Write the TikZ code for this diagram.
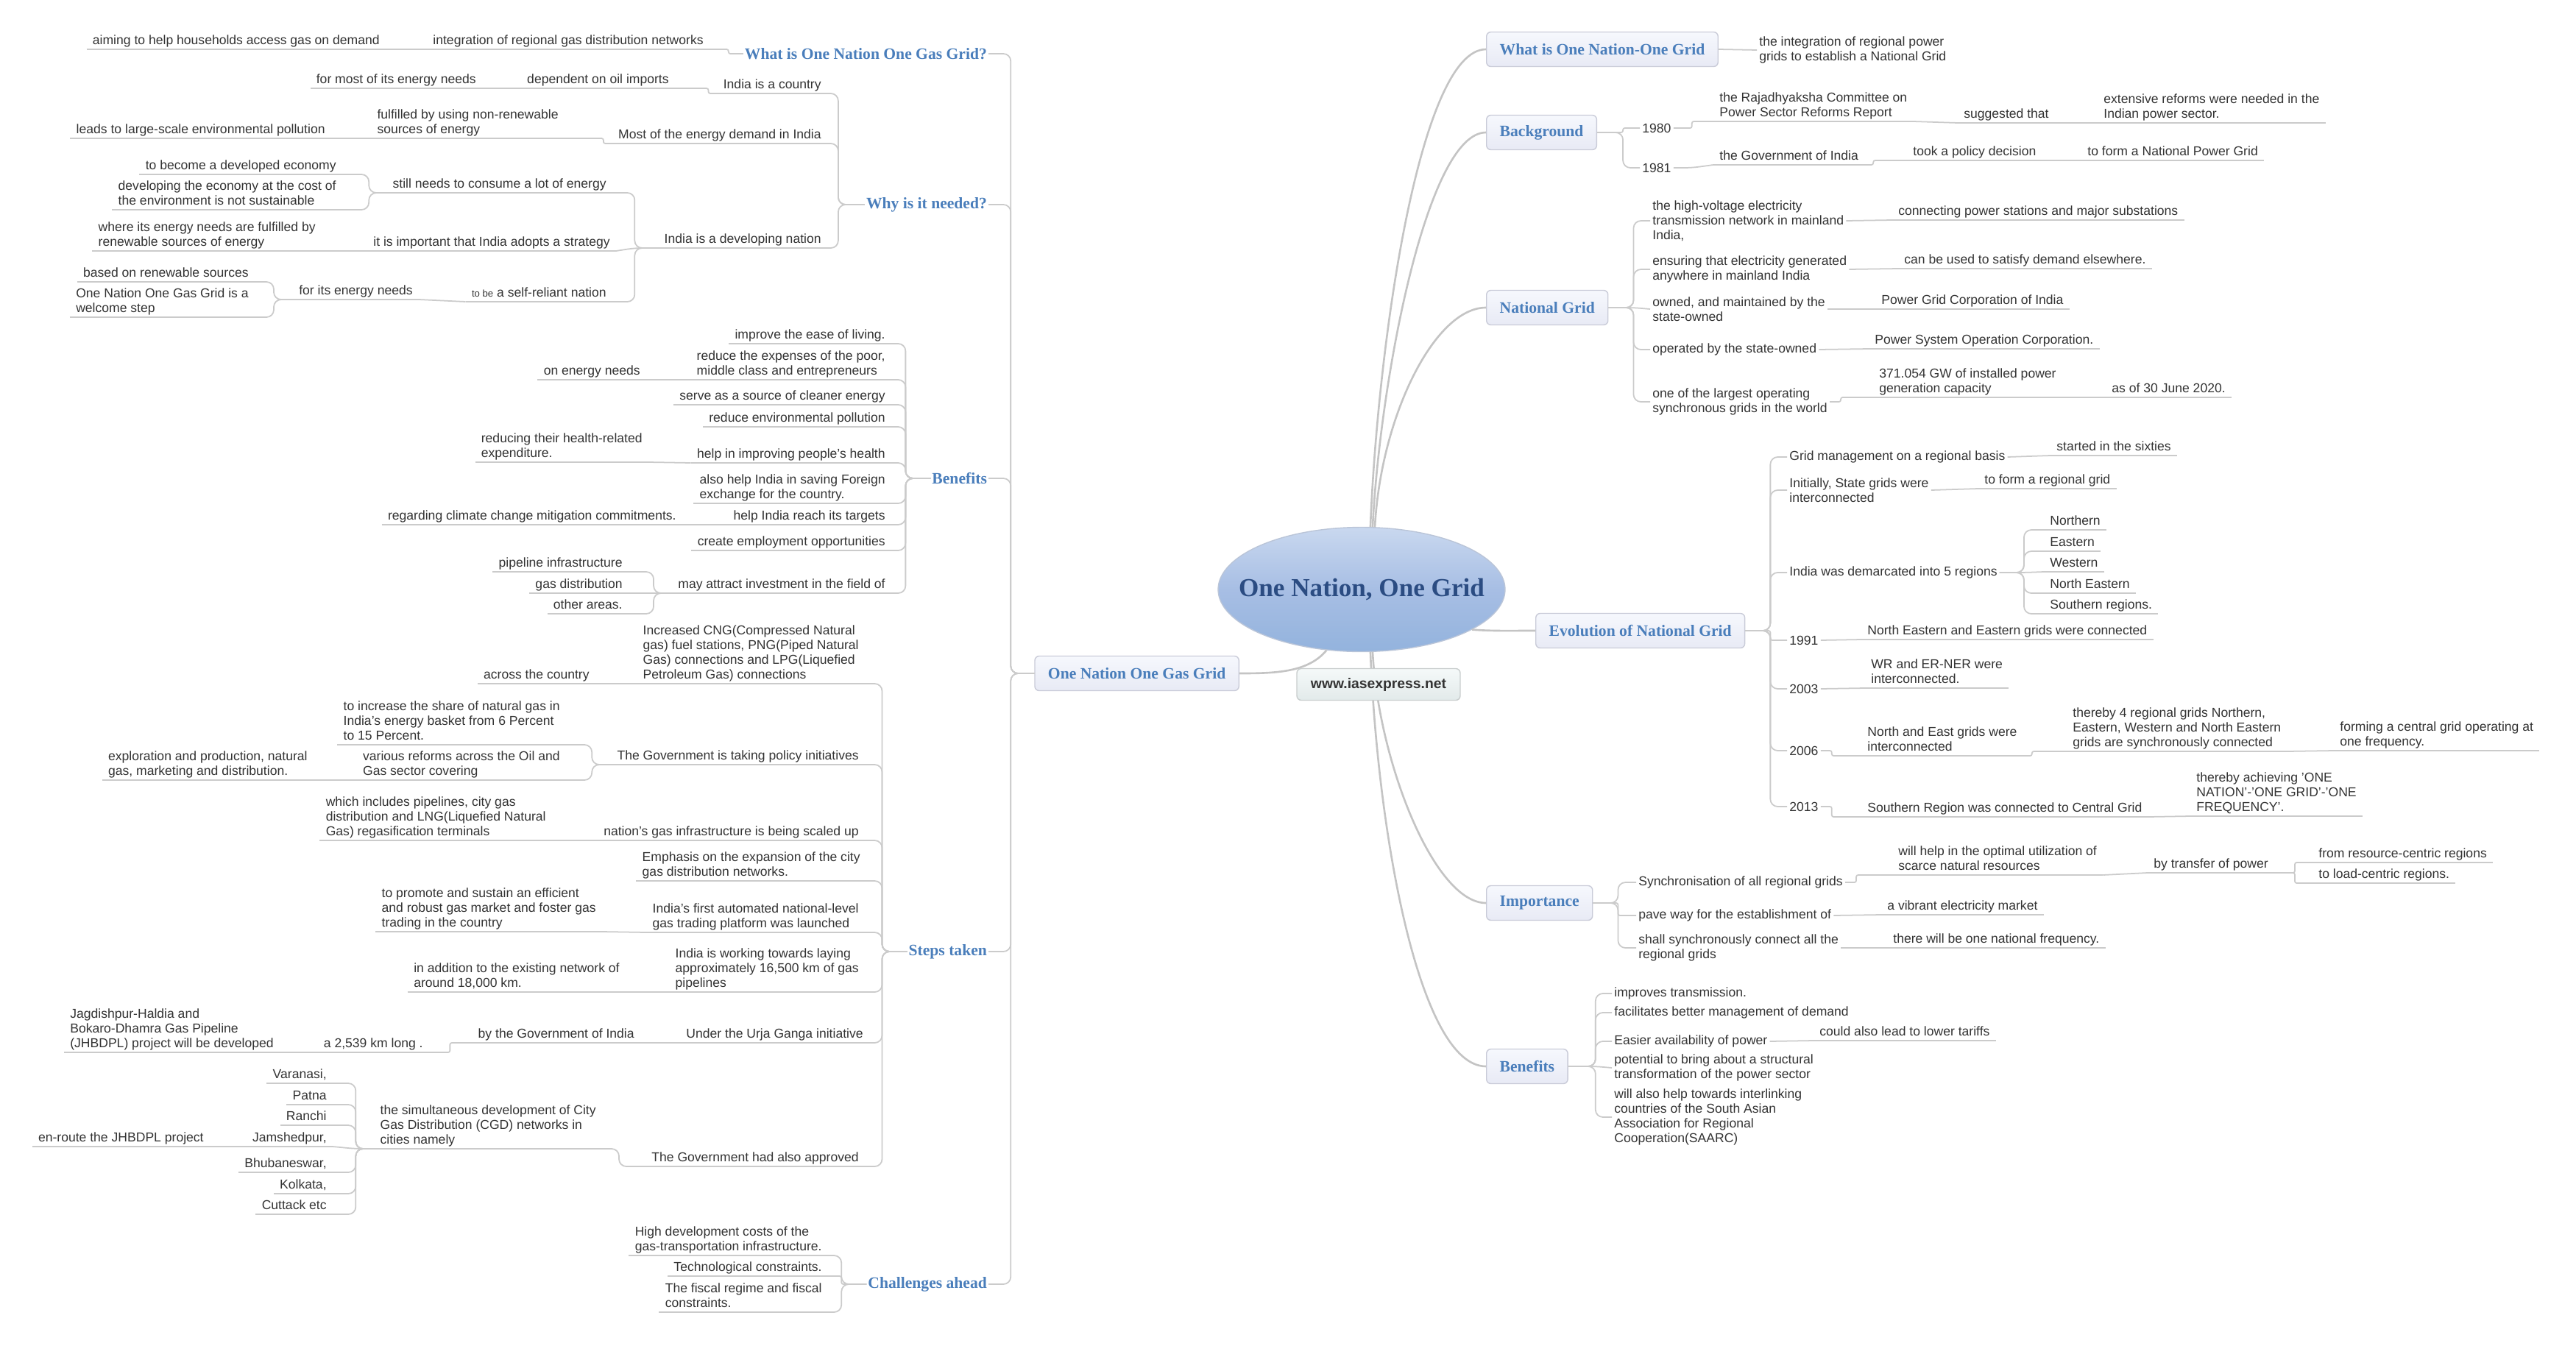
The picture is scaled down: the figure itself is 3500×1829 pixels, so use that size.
\documentclass[tikz,border=0pt]{standalone}
\usepackage{fontspec}
\setmainfont{Liberation Sans}
\newfontfamily\seriffont{Liberation Serif}
\usetikzlibrary{shapes.geometric}

\definecolor{txtgray}{HTML}{333333}
\definecolor{linegray}{HTML}{CBCBCB}
\definecolor{maingray}{HTML}{C4C4C4}
\definecolor{bluetxt}{HTML}{4A7EBB}
\definecolor{titleblue}{HTML}{2B4C82}
\definecolor{boxtop}{HTML}{F6F8FD}
\definecolor{boxbot}{HTML}{E8EAF5}
\definecolor{boxline}{HTML}{C9CBD8}
\definecolor{webtop}{HTML}{F5F9F9}
\definecolor{webbot}{HTML}{E2EAEA}
\definecolor{webline}{HTML}{C8CDCD}
\definecolor{elltop}{HTML}{C9D8EF}
\definecolor{ellmid}{HTML}{A7BEE4}
\definecolor{ellbot}{HTML}{93B3DD}
\definecolor{ellline}{HTML}{BAC5D8}

\tikzset{
  leaf/.style={font=\fontsize{10}{11.4}\selectfont, text=txtgray, align=left, inner xsep=0.16cm, inner ysep=0pt,
    execute at end node=\strut,
    append after command={(\tikzlastnode.south west) edge[uline] (\tikzlastnode.south east)}},
  branchtxt/.style={font=\fontsize{10}{11.4}\selectfont, text=txtgray, align=left, inner xsep=0.06cm, inner ysep=1pt},
  uline/.style={draw=linegray, line width=1pt},
  sublabel/.style={font=\seriffont\bfseries\fontsize{12.3}{14}\selectfont, text=bluetxt, inner sep=1pt},
  topic/.style={draw=boxline, line width=0.8pt, rounded corners=0.12cm, top color=boxtop, bottom color=boxbot,
    font=\seriffont\bfseries\fontsize{12.3}{14}\selectfont, text=bluetxt, minimum height=0.94cm, inner xsep=0.36cm},
  webbox/.style={draw=webline, line width=0.8pt, rounded corners=0.12cm, top color=webtop, bottom color=webbot,
    font=\bfseries\fontsize{11}{13}\selectfont, text=txtgray, minimum width=4.44cm, minimum height=0.86cm},
  conn/.style={draw=linegray, line width=1pt, rounded corners=0.2cm},
  connS/.style={draw=linegray, line width=1pt, rounded corners=0.05cm},
  mainline/.style={draw=maingray, line width=1.5pt},
}

\begin{document}
\begin{tikzpicture}[x=0.02cm,y=-0.02cm]
\useasboundingbox (0,0) rectangle (3500,1829);

% centre
\path (1850,801) node[ellipse, draw=ellline, line width=0.8pt, top color=elltop, bottom color=ellbot, middle color=ellmid,
  inner sep=0pt, minimum width=7.8cm, minimum height=3.38cm, font=\seriffont\bfseries\fontsize{20}{24}\selectfont, text=titleblue] (core) {\makebox[0pt]{One Nation, One Grid}};

% main topics
\path (1684,915) node[topic,anchor=east] (gas) {One Nation One Gas Grid};
\path (2019,67) node[topic,anchor=west] (whatgrid) {What is One Nation-One Grid};
\path (2019,180) node[topic,anchor=west] (backg) {Background};
\path (2019,418) node[topic,anchor=west] (natgrid) {National Grid};
\path (2086,857) node[topic,anchor=west] (evol) {Evolution of National Grid};
\path (2019,1227) node[topic,anchor=west] (import) {Importance};
\path (2019,1449) node[topic,anchor=west] (rben) {Benefits};

% left side labels
\path (1343,73) node[sublabel,anchor=east] (whatgas) {What is One Nation One Gas Grid?};
\path (1343,278) node[sublabel,anchor=east] (why) {Why is it needed?};
\path (1343,650) node[sublabel,anchor=east] (lben) {Benefits};
\path (1343,1293) node[sublabel,anchor=east] (steps) {Steps taken};
\path (1343,1745) node[sublabel,anchor=east] (chal) {Challenges ahead};

% what is gas grid
\path (964,67) node[leaf,anchor=south east] (wg1) {integration of regional gas distribution networks};
\path (524,67) node[leaf,anchor=south east] (wg1a) {aiming to help households access gas on demand};

% why is it needed
\path (1124,127) node[leaf,anchor=south east] (y1) {India is a country};
\path (917,120) node[leaf,anchor=south east] (y1a) {dependent on oil imports};
\path (655,120) node[leaf,anchor=south east] (y1a1) {for most of its energy needs};
\path (1124,195) node[leaf,anchor=south east] (y2) {Most of the energy demand in India};
\path (767,188) node[leaf,anchor=south east] (y2a) {fulfilled by using non-renewable\\sources of energy};
\path (450,188) node[leaf,anchor=south east] (y2a1) {leads to large-scale environmental pollution};
\path (1124,337) node[leaf,anchor=south east] (y3) {India is a developing nation};
\path (832,262) node[leaf,anchor=south east] (y3a) {still needs to consume a lot of energy};
\path (465,237) node[leaf,anchor=south east] (y3a1) {to become a developed economy};
\path (465,285) node[leaf,anchor=south east] (y3a2) {developing the economy at the cost of\\the environment is not sustainable};
\path (837,341) node[leaf,anchor=south east] (y3b) {it is important that India adopts a strategy};
\path (437,341) node[leaf,anchor=south east] (y3b1) {where its energy needs are fulfilled by\\renewable sources of energy};
\path (832,410) node[leaf,anchor=south east] (y3c) {{\fontsize{7.5}{8}\selectfont to be} a self-reliant nation};
\path (569,407) node[leaf,anchor=south east] (y3c1) {for its energy needs};
\path (346,383) node[leaf,anchor=south east] (y3c1a) {based on renewable sources};
\path (346,431) node[leaf,anchor=south east] (y3c1b) {One Nation One Gas Grid is a\\welcome step};

% benefits (gas)
\path (1211,467) node[leaf,anchor=south east] (lb1) {improve the ease of living.};
\path (1211,516) node[leaf,anchor=south east] (lb2) {reduce the expenses of the poor,\\middle class and entrepreneurs};
\path (878,516) node[leaf,anchor=south east] (lb2a) {on energy needs};
\path (1211,550) node[leaf,anchor=south east] (lb3) {serve as a source of cleaner energy};
\path (1211,580) node[leaf,anchor=south east] (lb4) {reduce environmental pollution};
\path (1211,629) node[leaf,anchor=south east] (lb5) {help in improving people's health};
\path (881,628) node[leaf,anchor=south east] (lb5a) {reducing their health-related\\expenditure.};
\path (1211,684) node[leaf,anchor=south east] (lb6) {also help India in saving Foreign\\exchange for the country.};
\path (1211,713) node[leaf,anchor=south east] (lb7) {help India reach its targets};
\path (927,713) node[leaf,anchor=south east] (lb7a) {regarding climate change mitigation commitments.};
\path (1211,748) node[leaf,anchor=south east] (lb8) {create employment opportunities};
\path (1211,806) node[leaf,anchor=south east] (lb9) {may attract investment in the field of};
\path (854,777) node[leaf,anchor=south east] (lb9a) {pipeline infrastructure};
\path (854,806) node[leaf,anchor=south east] (lb9b) {gas distribution};
\path (854,834) node[leaf,anchor=south east] (lb9c) {other areas.};

% steps taken
\path (1175,929) node[leaf,anchor=south east] (s1) {Increased CNG(Compressed Natural\\gas) fuel stations, PNG(Piped Natural\\Gas) connections and LPG(Liquefied\\Petroleum Gas) connections};
\path (809,929) node[leaf,anchor=south east] (s1a) {across the country};
\path (1175,1039) node[leaf,anchor=south east] (s2) {The Government is taking policy initiatives};
\path (769,1012) node[leaf,anchor=south east] (s2a) {to increase the share of natural gas in\\India's energy basket from 6 Percent\\to 15 Percent.};
\path (769,1060) node[leaf,anchor=south east] (s2b) {various reforms across the Oil and\\Gas sector covering};
\path (426,1060) node[leaf,anchor=south east] (s2b1) {exploration and production, natural\\gas, marketing and distribution.};
\path (1175,1142) node[leaf,anchor=south east] (s3) {nation's gas infrastructure is being scaled up};
\path (750,1142) node[leaf,anchor=south east] (s3a) {which includes pipelines, city gas\\distribution and LNG(Liquefied Natural\\Gas) regasification terminals};
\path (1177,1197) node[leaf,anchor=south east] (s4) {Emphasis on the expansion of the city\\gas distribution networks.};
\path (1175,1267) node[leaf,anchor=south east] (s5) {India's first automated national-level\\gas trading platform was launched};
\path (818,1266) node[leaf,anchor=south east] (s5a) {to promote and sustain an efficient\\and robust gas market and foster gas\\trading in the country};
\path (1175,1348) node[leaf,anchor=south east] (s6) {India is working towards laying\\approximately 16,500 km of gas\\pipelines};
\path (850,1348) node[leaf,anchor=south east] (s6a) {in addition to the existing network of\\around 18,000 km.};
\path (1181,1417) node[leaf,anchor=south east] (s7) {Under the Urja Ganga initiative};
\path (870,1417) node[leaf,anchor=south east] (s7a) {by the Government of India};
\path (583,1430) node[leaf,anchor=south east] (s7a1) {a 2,539 km long .};
\path (380,1430) node[leaf,anchor=south east] (s7a1a) {Jagdishpur-Haldia and\\Bokaro-Dhamra Gas Pipeline\\(JHBDPL) project will be developed};
\path (1175,1585) node[leaf,anchor=south east] (s8) {The Government had also approved};
\path (818,1561) node[leaf,anchor=south east] (s8a) {the simultaneous development of City\\Gas Distribution (CGD) networks in\\cities namely};
\path (452,1472) node[leaf,anchor=south east] (city1) {Varanasi,};
\path (452,1501) node[leaf,anchor=south east] (city2) {Patna};
\path (452,1529) node[leaf,anchor=south east] (city3) {Ranchi};
\path (452,1558) node[leaf,anchor=south east] (city4) {Jamshedpur,};
\path (285,1558) node[leaf,anchor=south east] (city4a) {en-route the JHBDPL project};
\path (452,1593) node[leaf,anchor=south east] (city5) {Bhubaneswar,};
\path (452,1622) node[leaf,anchor=south east] (city6) {Kolkata,};
\path (452,1650) node[leaf,anchor=south east] (city7) {Cuttack etc};

% challenges
\path (1125,1706) node[leaf,anchor=south east] (ch1) {High development costs of the\\gas-transportation infrastructure.};
\path (1125,1734) node[leaf,anchor=south east] (ch2) {Technological constraints.};
\path (1125,1783) node[leaf,anchor=south east] (ch3) {The fiscal regime and fiscal\\constraints.};

% what is one nation-one grid
\path (2387,68) node[branchtxt,anchor=west] (wr1) {the integration of regional power\\grids to establish a National Grid};

% background
\path (2228,174) node[branchtxt,anchor=west] (y1980) {1980};
\path (2228,228) node[branchtxt,anchor=west] (y1981) {1981};
\path (2328,165) node[leaf,anchor=south west] (bg1a) {the Rajadhyaksha Committee on\\Power Sector Reforms Report};
\path (2660,167) node[leaf,anchor=south west] (bg1a1) {suggested that};
\path (2850,167) node[leaf,anchor=south west] (bg1a1a) {extensive reforms were needed in the\\Indian power sector.};
\path (2328,224) node[leaf,anchor=south west] (bg2a) {the Government of India};
\path (2591,218) node[leaf,anchor=south west] (bg2a1) {took a policy decision};
\path (2828,218) node[leaf,anchor=south west] (bg2a1a) {to form a National Power Grid};

% national grid
\path (2242,300) node[branchtxt,anchor=west] (ng1) {the high-voltage electricity\\transmission network in mainland\\India,};
\path (2242,366) node[branchtxt,anchor=west] (ng2) {ensuring that electricity generated\\anywhere in mainland India};
\path (2242,420) node[branchtxt,anchor=west] (ng3) {owned, and maintained by the\\state-owned};
\path (2242,475) node[branchtxt,anchor=west] (ng4) {operated by the state-owned};
\path (2242,546) node[branchtxt,anchor=west] (ng5) {one of the largest operating\\synchronous grids in the world};
\path (2571,299) node[leaf,anchor=south west] (ng1a) {connecting power stations and major substations};
\path (2579,365) node[leaf,anchor=south west] (ng2a) {can be used to satisfy demand elsewhere.};
\path (2548,420) node[leaf,anchor=south west] (ng3a) {Power Grid Corporation of India};
\path (2539,474) node[leaf,anchor=south west] (ng4a) {Power System Operation Corporation.};
\path (2545,540) node[leaf,anchor=south west] (ng5a) {371.054 GW of installed power\\generation capacity};
\path (2861,540) node[leaf,anchor=south west] (ng5a1) {as of 30 June 2020.};

% evolution
\path (2428,621) node[branchtxt,anchor=west] (ev1) {Grid management on a regional basis};
\path (2428,666) node[branchtxt,anchor=west] (ev2) {Initially, State grids were\\interconnected};
\path (2428,778) node[branchtxt,anchor=west] (ev3) {India was demarcated into 5 regions};
\path (2428,870) node[branchtxt,anchor=west] (ev4) {1991};
\path (2428,936) node[branchtxt,anchor=west] (ev5) {2003};
\path (2428,1020) node[branchtxt,anchor=west] (ev6) {2006};
\path (2428,1096) node[branchtxt,anchor=west] (ev7) {2013};
\path (2786,619) node[leaf,anchor=south west] (ev1a) {started in the sixties};
\path (2688,664) node[leaf,anchor=south west] (ev2a) {to form a regional grid};
\path (2777,720) node[leaf,anchor=south west] (ev3a) {Northern};
\path (2777,749) node[leaf,anchor=south west] (ev3b) {Eastern};
\path (2777,777) node[leaf,anchor=south west] (ev3c) {Western};
\path (2777,806) node[leaf,anchor=south west] (ev3d) {North Eastern};
\path (2777,834) node[leaf,anchor=south west] (ev3e) {Southern regions.};
\path (2529,869) node[leaf,anchor=south west] (ev4a) {North Eastern and Eastern grids were connected};
\path (2534,935) node[leaf,anchor=south west] (ev5a) {WR and ER-NER were\\interconnected.};
\path (2529,1027) node[leaf,anchor=south west] (ev6a) {North and East grids were\\interconnected};
\path (2808,1021) node[leaf,anchor=south west] (ev6a1) {thereby 4 regional grids Northern,\\Eastern, Western and North Eastern\\grids are synchronously connected};
\path (3171,1020) node[leaf,anchor=south west] (ev6a1a) {forming a central grid operating at\\one frequency.};
\path (2529,1110) node[leaf,anchor=south west] (ev7a) {Southern Region was connected to Central Grid};
\path (2976,1109) node[leaf,anchor=south west] (ev7a1) {thereby achieving 'ONE\\NATION'-'ONE GRID'-'ONE\\FREQUENCY'.};

% importance
\path (2223,1199) node[branchtxt,anchor=west] (im1) {Synchronisation of all regional grids};
\path (2223,1244) node[branchtxt,anchor=west] (im2) {pave way for the establishment of};
\path (2223,1288) node[branchtxt,anchor=west] (im3) {shall synchronously connect all the\\regional grids};
\path (2571,1189) node[leaf,anchor=south west] (im1a) {will help in the optimal utilization of\\scarce natural resources};
\path (2918,1186) node[leaf,anchor=south west] (im1a1) {by transfer of power};
\path (3142,1172) node[leaf,anchor=south west] (im1a1a) {from resource-centric regions};
\path (3142,1200) node[leaf,anchor=south west] (im1a1b) {to load-centric regions.};
\path (2556,1243) node[leaf,anchor=south west] (im2a) {a vibrant electricity market};
\path (2564,1288) node[leaf,anchor=south west] (im3a) {there will be one national frequency.};

% benefits (grid)
\path (2190,1350) node[branchtxt,anchor=west] (rb1) {improves transmission.};
\path (2190,1376) node[branchtxt,anchor=west] (rb2) {facilitates better management of demand};
\path (2190,1415) node[branchtxt,anchor=west] (rb3) {Easier availability of power};
\path (2190,1451) node[branchtxt,anchor=west] (rb4) {potential to bring about a structural\\transformation of the power sector};
\path (2190,1518) node[branchtxt,anchor=west] (rb5) {will also help towards interlinking\\countries of the South Asian\\Association for Regional\\Cooperation(SAARC)};
\path (2464,1414) node[leaf,anchor=south west] (rb3a) {could also lead to lower tariffs};

% connectors from the centre
\draw[mainline] (core.82) .. controls +(10,-250) and +(-90,0) .. (whatgrid.west);
\draw[mainline] (core.80) .. controls +(10,-200) and +(-80,0) .. (backg.west);
\draw[mainline] (core.78) .. controls +(8,-150) and +(-70,0) .. (natgrid.west);
\draw[mainline] (core.-20) .. controls +(30,2) and +(-40,0) .. (evol.west);
\draw[mainline] (core.-80) .. controls +(8,150) and +(-70,0) .. (import.west);
\draw[mainline] (core.-82) .. controls +(10,250) and +(-90,0) .. (rben.west);
\draw[mainline] (core.-120) .. controls +(-25,30) and +(50,0) .. (gas.east);

% left connectors
\draw[conn] (gas.west) -- ++(-32,0) |- (whatgas.east);
\draw[conn] (gas.west) -- ++(-32,0) |- (why.east);
\draw[conn] (gas.west) -- ++(-32,0) |- (lben.east);
\draw[conn] (gas.west) -- ++(-32,0) |- (steps.east);
\draw[conn] (gas.west) -- ++(-32,0) |- (chal.east);

\draw[connS] (whatgas.west) -- ++(-20,0) |- (wg1.south east);
\draw[conn] (wg1.south west) -- (wg1a.south east);

\draw[conn] (why.west) -- ++(-36,0) |- (y1.south east);
\draw[conn] (why.west) -- ++(-36,0) |- (y2.south east);
\draw[conn] (why.west) -- ++(-36,0) |- (y3.south east);
\draw[connS] (y1.south west) -- ++(-12,0) |- (y1a.south east);
\draw[conn] (y1a.south west) -- (y1a1.south east);
\draw[connS] (y2.south west) -- ++(-12,0) |- (y2a.south east);
\draw[conn] (y2a.south west) -- (y2a1.south east);
\draw[conn] (y3.south west) -- ++(-32,0) |- (y3a.south east);
\draw[conn] (y3.south west) -- ++(-32,0) -- (y3b.south east);
\draw[conn] (y3.south west) -- ++(-32,0) |- (y3c.south east);
\draw[conn] (y3a.south west) -- ++(-24,0) |- (y3a1.south east);
\draw[conn] (y3a.south west) -- ++(-24,0) |- (y3a2.south east);
\draw[conn] (y3b.south west) -- (y3b1.south east);
\draw[conn] (y3c.south west) -- (y3c1.south east);
\draw[conn] (y3c1.south west) -- ++(-26,0) |- (y3c1a.south east);
\draw[conn] (y3c1.south west) -- ++(-26,0) |- (y3c1b.south east);

\draw[conn] (lben.west) -- ++(-34,0) |- (lb1.south east);
\draw[conn] (lben.west) -- ++(-34,0) |- (lb2.south east);
\draw[conn] (lben.west) -- ++(-34,0) |- (lb3.south east);
\draw[conn] (lben.west) -- ++(-34,0) |- (lb4.south east);
\draw[conn] (lben.west) -- ++(-34,0) |- (lb5.south east);
\draw[conn] (lben.west) -- ++(-34,0) |- (lb6.south east);
\draw[conn] (lben.west) -- ++(-34,0) |- (lb7.south east);
\draw[conn] (lben.west) -- ++(-34,0) |- (lb8.south east);
\draw[conn] (lben.west) -- ++(-34,0) |- (lb9.south east);
\draw[conn] (lb2.south west) -- (lb2a.south east);
\draw[conn] (lb5.south west) -- (lb5a.south east);
\draw[conn] (lb7.south west) -- (lb7a.south east);
\draw[conn] (lb9.south west) -- ++(-25,0) |- (lb9a.south east);
\draw[conn] (lb9.south west) -- (lb9b.south east);
\draw[conn] (lb9.south west) -- ++(-25,0) |- (lb9c.south east);

\draw[conn] (steps.west) -- ++(-34,0) |- (s1.south east);
\draw[conn] (steps.west) -- ++(-34,0) |- (s2.south east);
\draw[conn] (steps.west) -- ++(-34,0) |- (s3.south east);
\draw[conn] (steps.west) -- ++(-34,0) |- (s4.south east);
\draw[conn] (steps.west) -- ++(-34,0) |- (s5.south east);
\draw[conn] (steps.west) -- ++(-34,0) |- (s6.south east);
\draw[conn] (steps.west) -- ++(-34,0) |- (s7.south east);
\draw[conn] (steps.west) -- ++(-34,0) |- (s8.south east);
\draw[conn] (s1.south west) -- (s1a.south east);
\draw[conn] (s2.south west) -- ++(-26,0) |- (s2a.south east);
\draw[conn] (s2.south west) -- ++(-26,0) |- (s2b.south east);
\draw[conn] (s2b.south west) -- (s2b1.south east);
\draw[conn] (s3.south west) -- (s3a.south east);
\draw[conn] (s5.south west) -- (s5a.south east);
\draw[conn] (s6.south west) -- (s6a.south east);
\draw[conn] (s7.south west) -- (s7a.south east);
\draw[connS] (s7a.south west) -- ++(-30,0) |- (s7a1.south east);
\draw[conn] (s7a1.south west) -- (s7a1a.south east);
\draw[conn] (s8.south west) -- ++(-36,0) |- (s8a.south east);
\draw[conn] (s8a.south west) -- ++(-25,0) |- (city1.south east);
\draw[conn] (s8a.south west) -- ++(-25,0) |- (city2.south east);
\draw[conn] (s8a.south west) -- ++(-25,0) |- (city3.south east);
\draw[conn] (s8a.south west) -- ++(-25,0) -- (city4.south east);
\draw[conn] (s8a.south west) -- ++(-25,0) |- (city5.south east);
\draw[conn] (s8a.south west) -- ++(-25,0) |- (city6.south east);
\draw[conn] (s8a.south west) -- ++(-25,0) |- (city7.south east);
\draw[conn] (city4.south west) -- (city4a.south east);

\draw[conn] (chal.west) -- ++(-34,0) |- (ch1.south east);
\draw[connS] (chal.west) -- ++(-34,0) |- (ch2.south east);
\draw[conn] (chal.west) -- ++(-34,0) |- (ch3.south east);

% right connectors
\draw[conn] (whatgrid.east) -- (wr1.west);

\draw[connS] (backg.east) -- ++(35,0) |- (y1980.west);
\draw[conn] (backg.east) -- ++(35,0) |- (y1981.west);
\draw[connS] (y1980.east) -- ++(25,0) |- (bg1a.south west);
\draw[conn] (bg1a.south east) -- (bg1a1.south west);
\draw[conn] (bg1a1.south east) -- (bg1a1a.south west);
\draw[conn] (y1981.east) -- ++(25,0) -- (bg2a.south west);
\draw[connS] (bg2a.south east) -- ++(12,0) |- (bg2a1.south west);
\draw[conn] (bg2a1.south east) -- (bg2a1a.south west);

\draw[conn] (natgrid.east) -- ++(34,0) |- (ng1.west);
\draw[conn] (natgrid.east) -- ++(34,0) |- (ng2.west);
\draw[conn] (natgrid.east) -- ++(34,0) -- (ng3.west);
\draw[conn] (natgrid.east) -- ++(34,0) |- (ng4.west);
\draw[conn] (natgrid.east) -- ++(34,0) |- (ng5.west);
\draw[conn] (ng1.east) -- (ng1a.south west);
\draw[conn] (ng2.east) -- (ng2a.south west);
\draw[conn] (ng3.east) -- (ng3a.south west);
\draw[conn] (ng4.east) -- (ng4a.south west);
\draw[connS] (ng5.east) -- ++(15,0) |- (ng5a.south west);
\draw[conn] (ng5a.south east) -- (ng5a1.south west);

\draw[conn] (evol.east) -- ++(34,0) |- (ev1.west);
\draw[conn] (evol.east) -- ++(34,0) |- (ev2.west);
\draw[conn] (evol.east) -- ++(34,0) |- (ev3.west);
\draw[connS] (evol.east) -- ++(34,0) |- (ev4.west);
\draw[conn] (evol.east) -- ++(34,0) |- (ev5.west);
\draw[conn] (evol.east) -- ++(34,0) |- (ev6.west);
\draw[conn] (evol.east) -- ++(34,0) |- (ev7.west);
\draw[conn] (ev1.east) -- (ev1a.south west);
\draw[conn] (ev2.east) -- (ev2a.south west);
\draw[conn] (ev3.east) -- ++(33,0) |- (ev3a.south west);
\draw[conn] (ev3.east) -- ++(33,0) |- (ev3b.south west);
\draw[conn] (ev3.east) -- ++(33,0) -- (ev3c.south west);
\draw[conn] (ev3.east) -- ++(33,0) |- (ev3d.south west);
\draw[conn] (ev3.east) -- ++(33,0) |- (ev3e.south west);
\draw[conn] (ev4.east) -- (ev4a.south west);
\draw[conn] (ev5.east) -- (ev5a.south west);
\draw[connS] (ev6.east) -- ++(15,0) |- (ev6a.south west);
\draw[connS] (ev6a.south east) -- ++(12,0) |- (ev6a1.south west);
\draw[conn] (ev6a1.south east) -- (ev6a1a.south west);
\draw[connS] (ev7.east) -- ++(15,0) |- (ev7a.south west);
\draw[conn] (ev7a.south east) -- (ev7a1.south west);

\draw[conn] (import.east) -- ++(34,0) |- (im1.west);
\draw[connS] (import.east) -- ++(34,0) |- (im2.west);
\draw[conn] (import.east) -- ++(34,0) |- (im3.west);
\draw[connS] (im1.east) -- ++(15,0) |- (im1a.south west);
\draw[conn] (im1a.south east) -- (im1a1.south west);
\draw[connS] (im1a1.south east) -- ++(28,0) |- (im1a1a.south west);
\draw[connS] (im1a1.south east) -- ++(28,0) |- (im1a1b.south west);
\draw[conn] (im2.east) -- (im2a.south west);
\draw[conn] (im3.east) -- (im3a.south west);

\draw[conn] (rben.east) -- ++(37,0) |- (rb1.west);
\draw[conn] (rben.east) -- ++(37,0) |- (rb2.west);
\draw[conn] (rben.east) -- ++(37,0) |- (rb3.west);
\draw[conn] (rben.east) -- ++(37,0) -- (rb4.west);
\draw[conn] (rben.east) -- ++(37,0) |- (rb5.west);
\draw[conn] (rb3.east) -- (rb3a.south west);

% web label on top of the lines
\path (1873,930) node[webbox] (web) {www.iasexpress.net};

\end{tikzpicture}
\end{document}
